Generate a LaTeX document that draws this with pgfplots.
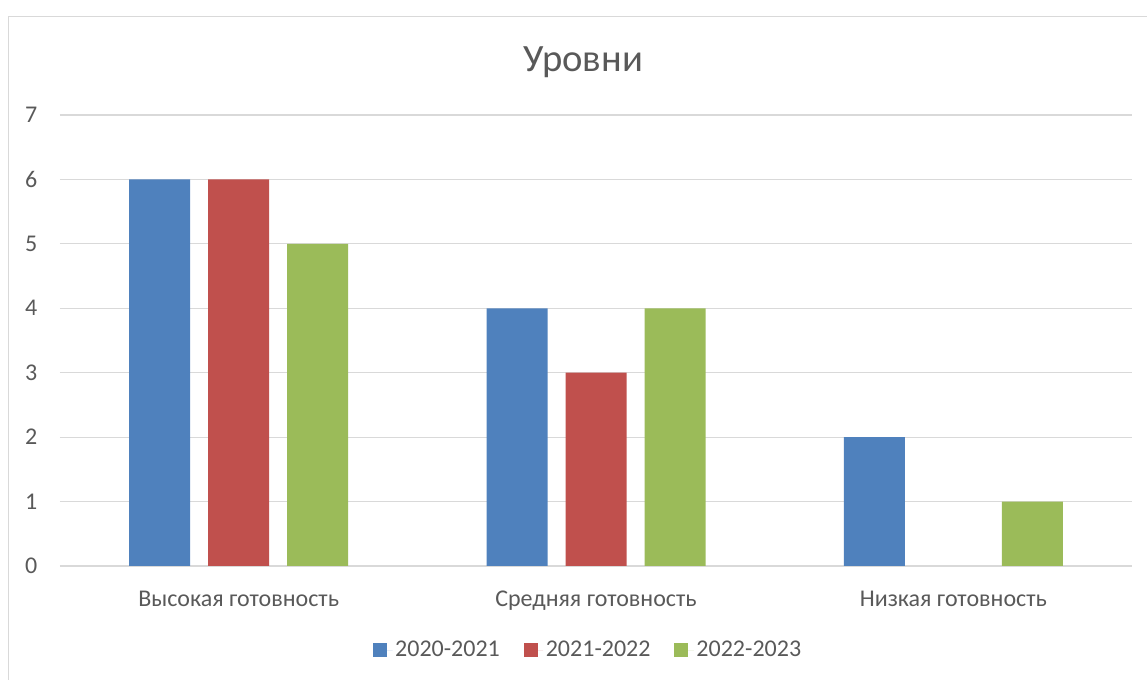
\documentclass[border=0pt]{standalone}
\usepackage{fontspec}
\setmainfont{Carlito}
\usepackage{pgfplots}
\pgfplotsset{compat=1.18}
\definecolor{cblue}{HTML}{4F81BD}
\definecolor{cred}{HTML}{C0504D}
\definecolor{cgreen}{HTML}{9BBB59}
\definecolor{ctext}{HTML}{595959}
\definecolor{cgrid}{HTML}{D9D9D9}
\begin{document}
\begin{tikzpicture}[x=1pt,y=1pt]
\useasboundingbox (0,0) rectangle (860.25,510);
\draw[cgrid, line width=1pt] (6.4,-10) -- (6.4,497.8) -- (870,497.8);
\node[text=ctext, font=\fontsize{29pt}{34pt}\selectfont] at (437.25,463) {Уровни};
\begin{axis}[
  at={(45pt,85.5pt)}, anchor=south west,
  scale only axis, width=804pt, height=338.25pt,
  xmin=-0.5, xmax=2.5, ymin=0, ymax=7,
  ybar=13.5pt, bar width=45.75pt,
  xtick={0,1,2},
  xticklabels={Высокая готовность, Средняя готовность, Низкая готовность},
  ytick={0,1,...,7},
  major tick length=0pt,
  axis line style={draw=none},
  ymajorgrids, major grid style={cgrid, line width=0.9pt},
  /pgf/number format/assume math mode=true,
  tick label style={text=ctext, font=\fontsize{18pt}{21pt}\selectfont},
  xticklabel style={yshift=-15.5pt},
  yticklabel style={xshift=-13.5pt},
  legend style={draw=none, fill=none, at={(0.493,-0.1863)}, anchor=center,
    legend columns=3, font=\fontsize{18pt}{21pt}\selectfont, text=ctext,
    /tikz/every even column/.style={column sep=16pt}},
  legend image code/.code={\path (0pt,0pt) -- (14.5pt,0pt);\fill[#1] (0pt,-5.25pt) rectangle (10.5pt,5.25pt);},
]
\addplot[fill=cblue, draw=none] coordinates {(0,6) (1,4) (2,2)};
\addplot[fill=cred, draw=none] coordinates {(0,6) (1,3)};
\addplot[fill=cgreen, draw=none] coordinates {(0,5) (1,4) (2,1)};
\legend{2020-2021, 2021-2022, 2022-2023}
\end{axis}
\end{tikzpicture}
\end{document}
